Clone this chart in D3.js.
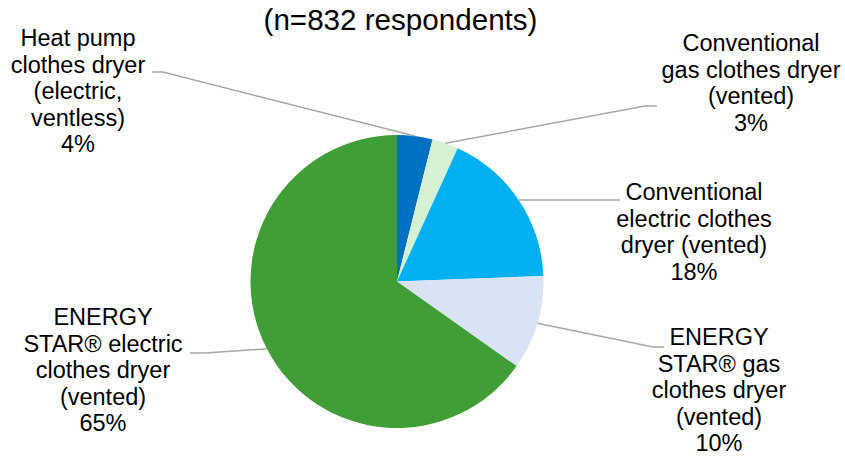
<!DOCTYPE html>
<html>
<head>
<meta charset="utf-8">
<script src="https://cdn.jsdelivr.net/npm/d3@7"></script>
<style>
  body { margin: 0; background: #fff; }
  svg { display: block; }
  text { font-family: "Liberation Sans", Arial, sans-serif; fill: #000; }
</style>
</head>
<body>
<svg id="chart"></svg>
<script>
const WIDTH = 845;
const HEIGHT = 462;

const TITLE = "(n=832 respondents)";

// slices, clockwise from 12 o'clock
const CATEGORIES = [
  ["Heat pump", "clothes dryer", "(electric,", "ventless)"],
  ["Conventional", "gas clothes dryer", "(vented)"],
  ["Conventional", "electric clothes", "dryer (vented)"],
  ["ENERGY", "STAR\u00AE gas", "clothes dryer", "(vented)"],
  ["ENERGY", "STAR\u00AE electric", "clothes dryer", "(vented)"]
];
const VALUES = [3.9, 2.9, 17.6, 10.4, 65.2];
const PERCENT_LABELS = ["4%", "3%", "18%", "10%", "65%"];

const COLORS = ["#0070C0", "#D6F0D4", "#00B0F0", "#DAE3F3", "#409E37"];

// label layout: text centre x, first baseline y, leader elbow and end
const LABEL_LAYOUT = [
  { x: 78,  y: 46,  elbow: [163, 72],  end: [152, 72] },
  { x: 751, y: 51,  elbow: [645, 106], end: [657, 106] },
  { x: 694, y: 200, elbow: [560, 200], end: [620, 200] },
  { x: 719, y: 345, elbow: [653, 347], end: [664, 347] },
  { x: 103, y: 325, elbow: [205, 353], end: [190, 353] }
];

const CX = 397, CY = 281.5, R = 146.5;
const LINE_H = 26.6;

const svg = d3.select('#chart')
              .attr('width', WIDTH)
              .attr('height', HEIGHT);

svg.append('text')
   .attr('x', 400.5)
   .attr('y', 30)
   .attr('text-anchor', 'middle')
   .attr('font-size', '29.6px')
   .text(TITLE);

const pie = d3.pie().sort(null).value(d => d);
const arcs = pie(VALUES);

const arc = d3.arc().innerRadius(0).outerRadius(R);
const edge = d3.arc().innerRadius(R).outerRadius(R);

const g = svg.append('g').attr('transform', `translate(${CX},${CY})`);

g.selectAll('path')
 .data(arcs)
 .enter().append('path')
 .attr('d', arc)
 .attr('fill', (d, i) => COLORS[i]);

// leader lines
svg.selectAll('polyline')
   .data(arcs)
   .enter().append('polyline')
   .attr('points', (d, i) => {
     const mid = (d.startAngle + d.endAngle) / 2;
     const p = edge.centroid({ startAngle: mid, endAngle: mid });
     const L = LABEL_LAYOUT[i];
     return [[p[0] + CX, p[1] + CY], L.elbow, L.end].map(q => q.join(',')).join(' ');
   })
   .attr('fill', 'none')
   .attr('stroke', '#A6A6A6')
   .attr('stroke-width', 1.5);

// labels
const labels = svg.selectAll('text.label')
                  .data(CATEGORIES)
                  .enter().append('text')
                  .attr('class', 'label')
                  .attr('text-anchor', 'middle')
                  .attr('font-size', '23.5px');

labels.each(function (lines, i) {
  const L = LABEL_LAYOUT[i];
  const all = lines.concat([PERCENT_LABELS[i]]);
  d3.select(this).selectAll('tspan')
    .data(all)
    .enter().append('tspan')
    .attr('x', L.x)
    .attr('y', (t, j) => L.y + j * LINE_H)
    .text(t => t);
});
</script>
</body>
</html>
